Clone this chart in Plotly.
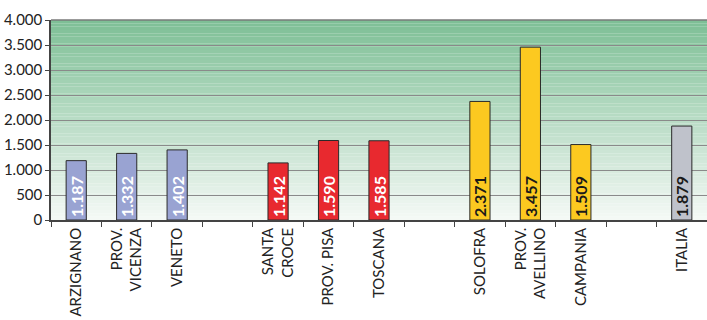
import plotly.graph_objects as go

# Categories (blank slots separate the regional groups)
categories = ["ARZIGNANO", "PROV.<br>VICENZA", "VENETO", " ",
              "SANTA<br>CROCE", "PROV. PISA", "TOSCANA", "  ",
              "SOLOFRA", "PROV.<br>AVELLINO", "CAMPANIA", "   ",
              "ITALIA"]
values = [1187, 1332, 1402, None,
          1142, 1590, 1585, None,
          2371, 3457, 1509, None,
          1879]
value_labels = ["1.187", "1.332", "1.402", "",
                "1.142", "1.590", "1.585", "",
                "2.371", "3.457", "1.509", "",
                "1.879"]

BLUE, RED, YEL, GREY = "#99a3d2", "#e8292f", "#fcc920", "#bfc2cb"
bar_colors = [BLUE, BLUE, BLUE, BLUE,
              RED, RED, RED, RED,
              YEL, YEL, YEL, YEL,
              GREY]
text_colors = ["white", "white", "white", "white",
               "white", "white", "white", "white",
               "#1a1a1a", "#1a1a1a", "#1a1a1a", "#1a1a1a",
               "#1a1a1a"]

FONT = "Lato"

fig = go.Figure(go.Bar(
    x=categories, y=values,
    marker=dict(color=bar_colors, line=dict(color="#2a2a2a", width=1)),
    width=0.4,
    text=value_labels, textposition="inside", insidetextanchor="start",
    textangle=-90,
    textfont=dict(family=FONT, size=16, color=text_colors, weight="bold"),
    cliponaxis=False,
))

# vertical green-to-white gradient behind the plot area
top = (126, 191, 150)
bot = (244, 249, 245)
n = 60
shapes = []
for i in range(n):
    t = i / (n - 1)
    c = tuple(round(bot[k] + (top[k] - bot[k]) * t) for k in range(3))
    shapes.append(dict(type="rect", xref="x domain", yref="y domain",
                       x0=0, x1=1, y0=i / n, y1=(i + 1) / n,
                       fillcolor="rgb(%d,%d,%d)" % c, line=dict(width=0),
                       layer="below"))
shapes.append(dict(type="line", xref="x domain", yref="y domain",
                   x0=0, x1=1, y0=1, y1=1,
                   line=dict(color="#7a7a7a", width=1.5)))
fig.update_layout(shapes=shapes)

fig.update_layout(
    width=707, height=320,
    margin=dict(l=51, r=0, t=20, b=100),
    paper_bgcolor="white", plot_bgcolor="white",
    separators=",.",
    showlegend=False,
    bargap=0.6,
    uniformtext=dict(minsize=16, mode="show"),
    font=dict(family=FONT, color="#222222"),
)
fig.update_yaxes(
    range=[0, 4000], dtick=500, tickformat=",d",
    showgrid=True, gridcolor="#8a8a8a", gridwidth=1.2,
    showline=True, linecolor="#444444", linewidth=1.5,
    ticks="outside", ticklen=4, tickcolor="#444444",
    tickfont=dict(size=15, color="#222222"),
    zeroline=False,
)
fig.update_xaxes(
    type="category", categoryorder="array", categoryarray=categories,
    tickangle=-90, tickson="boundaries",
    ticks="outside", ticklen=5, tickcolor="#444444",
    showline=True, linecolor="#444444", linewidth=1.5,
    tickfont=dict(size=15, color="#222222"),
    showgrid=False,
)

fig.write_html("out.html")
